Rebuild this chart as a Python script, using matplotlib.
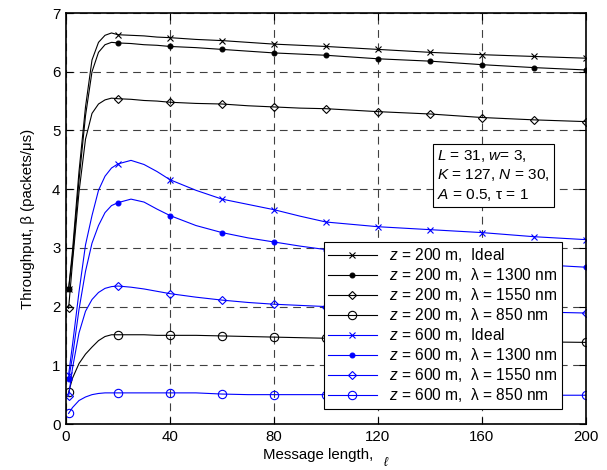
import numpy as np
import matplotlib
matplotlib.use("Agg")
import matplotlib.pyplot as plt

plt.rcParams['font.family'] = ['Liberation Sans', 'DejaVu Sans']
plt.rcParams['mathtext.fontset'] = 'custom'
plt.rcParams['mathtext.rm'] = 'Liberation Sans'
plt.rcParams['mathtext.it'] = 'Liberation Sans:italic'

# message length grid
msg_len = [1, 2.5, 5, 7.5, 10, 12.5, 15, 17.5, 20, 25, 30, 35, 40, 50, 60, 70, 80, 90,
           100, 120, 140, 160, 180, 200]
marker_lengths = [1, 20, 40, 60, 80, 100, 120, 140, 160, 180, 200]

z200_ideal = [2.30, 2.95, 4.30, 5.40, 6.20, 6.50, 6.62, 6.66, 6.63, 6.62, 6.61, 6.59, 6.58,
              6.55, 6.53, 6.50, 6.47, 6.45, 6.43, 6.38, 6.33, 6.29, 6.26, 6.23]
z200_1300 = [2.30, 2.85, 4.15, 5.25, 6.00, 6.33, 6.46, 6.50, 6.49, 6.48, 6.46, 6.45, 6.43,
             6.41, 6.38, 6.35, 6.32, 6.30, 6.28, 6.22, 6.18, 6.12, 6.07, 6.03]
z200_1550 = [1.97, 2.75, 3.95, 4.85, 5.29, 5.45, 5.52, 5.55, 5.54, 5.53, 5.51, 5.50, 5.48,
             5.46, 5.45, 5.42, 5.40, 5.38, 5.37, 5.32, 5.28, 5.22, 5.18, 5.15]
z200_850 = [0.54, 0.78, 1.03, 1.19, 1.31, 1.42, 1.49, 1.52, 1.52, 1.52, 1.52, 1.51, 1.51,
            1.51, 1.50, 1.49, 1.48, 1.47, 1.46, 1.45, 1.43, 1.42, 1.40, 1.39]
z600_ideal = [0.84, 1.35, 2.25, 3.05, 3.55, 3.98, 4.22, 4.36, 4.43, 4.49, 4.42, 4.30, 4.16,
              3.98, 3.83, 3.74, 3.65, 3.54, 3.44, 3.36, 3.31, 3.26, 3.19, 3.14]
z600_1300 = [0.76, 1.15, 1.95, 2.60, 3.08, 3.38, 3.60, 3.72, 3.77, 3.83, 3.78, 3.66, 3.55,
             3.38, 3.26, 3.17, 3.10, 3.03, 2.97, 2.89, 2.83, 2.77, 2.72, 2.67]
z600_1550 = [0.47, 0.95, 1.55, 1.92, 2.12, 2.24, 2.31, 2.34, 2.35, 2.33, 2.30, 2.26, 2.22,
             2.16, 2.11, 2.07, 2.04, 2.02, 2.00, 1.97, 1.95, 1.93, 1.91, 1.89]
z600_850 = [0.18, 0.28, 0.40, 0.46, 0.50, 0.52, 0.53, 0.53, 0.53, 0.53, 0.53, 0.53, 0.53,
            0.53, 0.51, 0.50, 0.50, 0.50, 0.50, 0.50, 0.49, 0.49, 0.49, 0.49]

labels = [r'$\mathit{z}$ = 200 m,  Ideal',
          r'$\mathit{z}$ = 200 m,  λ = 1300 nm',
          r'$\mathit{z}$ = 200 m,  λ = 1550 nm',
          r'$\mathit{z}$ = 200 m,  λ = 850 nm',
          r'$\mathit{z}$ = 600 m,  Ideal',
          r'$\mathit{z}$ = 600 m,  λ = 1300 nm',
          r'$\mathit{z}$ = 600 m,  λ = 1550 nm',
          r'$\mathit{z}$ = 600 m,  λ = 850 nm']
x_ticks = [0, 40, 80, 120, 160, 200]
y_ticks = [0, 1, 2, 3, 4, 5, 6, 7]

series = [z200_ideal, z200_1300, z200_1550, z200_850,
          z600_ideal, z600_1300, z600_1550, z600_850]
colors = ['k'] * 4 + ['#0000ff'] * 4
markers = ['x', 'o', 'D', 'o'] * 2
msizes = [5, 3.5, 4.5, 6] * 2
mfc = ['k', 'k', 'none', 'none', '#0000ff', '#0000ff', 'none', 'none']

FS = 10.8
fig = plt.figure(figsize=(6.07, 4.70), dpi=100)
ax = fig.add_axes([66 / 607, 1 - 424 / 470, 520 / 607, 411 / 470])

x = np.array(msg_len)
mark_idx = [i for i, v in enumerate(msg_len) if v in marker_lengths]
for y, c, m, ms, fc, lab in zip(series, colors, markers, msizes, mfc, labels):
    ax.plot(x, y, color=c, lw=0.8, marker=m, ms=ms, mfc=fc, mec=c, mew=0.8,
            markevery=mark_idx, label=lab)

ax.set_xlim(0, 200)
ax.set_ylim(0, 7)
ax.set_xticks(x_ticks)
ax.set_yticks(y_ticks)
ax.tick_params(direction='in', top=True, right=True, length=5, width=0.8,
               labelsize=FS, pad=4)
for s in ax.spines.values():
    s.set_linewidth(1.2)
ax.grid(True, color='#404040', lw=0.8, linestyle=(0, (7, 5)))
ax.set_axisbelow(True)

ax.set_xlabel('Message length,', fontsize=FS, labelpad=3)
ax.xaxis.set_label_coords((318 - 66) / 520, -0.058, transform=ax.transAxes)
ax.xaxis.label.set_va('top')
fig.text(386 / 607, 1 - 469 / 470, r'$\ell$', fontsize=9, ha='center', va='bottom',
         family='DejaVu Serif', style='italic')
ax.set_ylabel('Throughput, β (packets/μs)', fontsize=FS, labelpad=12)

ax.text(0.714, 0.672, r'$\mathit{L}$ = 31, $\mathit{w}$= 3,' + '\n'
        + r'$\mathit{K}$ = 127, $\mathit{N}$ = 30,' + '\n'
        + r'$\mathit{A}$ = 0.5, τ = 1',
        transform=ax.transAxes, fontsize=11.1, va='top', ha='left', linespacing=1.3,
        bbox=dict(boxstyle='square,pad=0.25', fc='white', ec='k', lw=0.8))

leg = ax.legend(loc='lower right', bbox_to_anchor=((562 - 66) / 520, (424 - 409) / 411),
                borderaxespad=0, fontsize=11.2, frameon=True, fancybox=False,
                edgecolor='k', framealpha=1, handlelength=3.1, handletextpad=0.8,
                labelspacing=0.13, borderpad=0.3)
leg.get_frame().set_linewidth(0.8)

fig.savefig('out.png', dpi=100)
